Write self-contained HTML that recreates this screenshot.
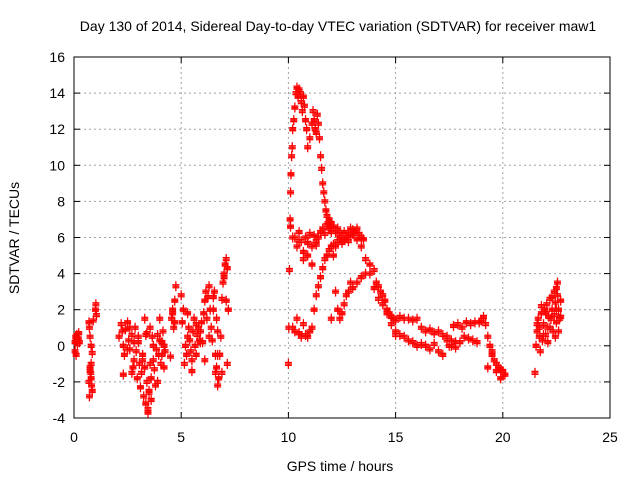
<!DOCTYPE html>
<html><head><meta charset="utf-8"><style>
body{margin:0;background:#fff}
svg{display:block;font-family:"Liberation Sans",sans-serif}
</style></head><body>
<svg id="chart" width="640" height="480" viewBox="0 0 640 480" xmlns="http://www.w3.org/2000/svg">
<rect width="640" height="480" fill="#fff"/>
<text x="338" y="31" font-size="14" text-anchor="middle">Day 130 of 2014, Sidereal Day-to-day VTEC variation (SDTVAR) for receiver maw1</text>
<g id="grid"></g>
<g id="axes"></g>
<g id="marks"></g>
<text x="340" y="471" font-size="14" text-anchor="middle">GPS time / hours</text>
<text transform="translate(19,238) rotate(-90)" font-size="14" text-anchor="middle">SDTVAR / TECUs</text>
</svg>
<script>
const xTicks=[0,5,10,15,20,25];
const yTicks=[-4,-2,0,2,4,6,8,10,12,14,16];
const hours=[
0.05,0.08,0.1,0.13,0.16,0.2,0.22,0.25,0.1,0.05,
0.7,0.72,0.75,0.8,0.85,0.9,0.75,0.78,0.8,0.82,0.85,0.7,0.72,0.75,0.8,1.0,1.02,1.05,
2.1,2.2,2.25,2.3,2.35,2.4,2.5,2.55,2.6,2.7,2.75,2.8,2.85,2.9,2.95,3.0,3.05,3.1,3.15,3.2,3.25,3.3,3.35,3.4,3.45,3.5,3.55,3.6,3.65,3.7,3.75,3.8,3.85,3.9,3.95,4.0,4.05,4.1,4.15,4.2,4.25,2.3,2.5,2.6,2.7,2.8,3.0,3.2,3.3,3.4,3.5,3.6,3.7,3.9,4.0,4.1,4.2,3.35,3.45,3.55,
4.5,4.55,4.6,4.65,4.7,4.75,4.6,4.7,5.0,5.05,
5.1,5.15,5.2,5.25,5.3,5.35,5.4,5.45,5.5,5.55,5.6,5.65,5.7,5.75,5.8,5.85,5.9,5.95,6.0,6.05,6.1,6.15,6.2,6.25,6.3,6.35,6.4,6.45,6.5,6.55,6.6,6.65,6.7,6.75,6.8,6.85,6.9,6.95,7.0,7.05,7.1,7.15,7.2,5.3,5.5,5.7,5.9,6.1,6.3,6.5,6.7,6.9,7.0,7.1,7.15,6.6,6.65,6.7,
10.0,10.02,10.05,10.08,10.1,10.12,10.15,10.18,10.2,10.25,10.3,10.35,10.4,10.45,10.5,10.55,10.6,10.65,10.7,10.75,10.8,10.85,10.9,11.0,11.1,11.15,11.2,11.25,11.3,11.35,11.4,11.45,11.5,11.55,11.6,11.65,11.7,11.75,11.8,11.85,11.9,11.95,12.0,
10.2,10.3,10.4,10.5,10.6,10.7,10.8,10.9,11.0,11.1,11.2,11.3,11.4,11.5,11.6,11.7,11.8,11.9,12.0,12.1,12.2,12.3,12.4,12.5,12.6,12.7,12.8,12.9,13.0,13.1,13.2,13.3,13.4,13.5,10.5,10.7,10.9,11.1,11.3,
10.1,10.2,10.3,10.4,10.5,10.6,10.7,10.8,10.9,11.0,11.1,11.2,11.3,11.4,11.5,11.6,11.7,11.8,11.9,12.0,12.1,12.2,12.3,12.4,12.5,12.6,12.7,12.8,12.9,13.0,13.2,13.4,13.6,13.8,14.0,14.1,14.2,14.3,14.4,14.5,14.6,14.7,14.8,14.9,15.0,
12.0,12.1,12.2,12.3,12.4,12.5,12.6,12.7,12.8,12.9,13.0,13.2,13.4,13.6,13.8,14.0,14.2,14.4,14.6,14.8,15.0,15.2,15.4,15.6,15.8,16.0,16.2,16.4,16.6,16.8,17.0,17.2,17.4,17.6,17.8,18.0,18.2,18.4,18.6,18.8,
15.0,15.2,15.4,15.6,15.8,16.0,16.2,16.4,16.6,16.8,17.0,17.2,17.4,17.6,17.8,
17.5,17.7,17.9,18.1,18.3,18.5,18.7,18.9,19.0,19.1,19.2,19.3,19.4,19.5,19.6,19.7,19.8,19.9,20.0,20.1,19.3,19.5,19.7,19.9,
21.5,21.55,21.6,21.65,21.7,21.75,21.8,21.85,21.9,21.95,22.0,22.05,22.1,22.15,22.2,22.25,22.3,22.35,22.4,22.45,22.5,22.55,22.6,22.65,22.7,21.6,21.7,21.8,21.9,22.0,22.1,22.2,22.3,22.4,22.5,22.6,22.7,22.45,22.5,22.55
];
const tecu=[
0.2,0.5,0.3,0.6,0.1,0.4,0.7,0.2,-0.5,-0.3,
1.3,1.0,0.5,0.0,-0.4,1.4,-1.2,-1.5,-1.8,-2.2,-2.5,-2.0,-2.8,-1.4,-1.0,2.0,2.3,1.7,
0.5,1.2,0.8,0.0,-0.5,0.9,1.3,0.3,-0.2,0.6,-1.2,-0.8,1.0,-0.3,-1.8,0.2,-1.0,-2.3,-1.5,-0.5,-2.8,-1.2,-3.2,-2.0,-3.5,-2.5,-1.0,-1.8,0.5,-0.8,-1.3,-2.2,-0.2,0.6,-0.5,0.3,-1.0,0.2,0.8,0.0,-0.3,-1.6,-0.2,1.0,-1.5,0.2,0.5,-0.8,1.5,0.7,-2.6,-3.0,0.0,-2.0,1.5,-0.5,-1.2,0.6,-3.7,1.0,-0.6,
1.5,1.8,1.0,2.5,3.3,2.0,1.3,2.8,1.3,2.0,
-1.0,0.0,-0.5,0.5,1.0,0.3,-0.3,-0.8,0.8,1.5,0.0,-0.5,0.6,1.0,0.3,0.8,1.3,0.2,1.8,2.5,3.0,1.5,2.7,3.3,2.0,1.0,0.3,2.7,3.0,-0.5,-1.2,-2.2,-1.8,-0.5,0.5,2.6,3.5,4.0,4.5,4.8,4.3,2.0,1.8,-1.4,1.2,0.2,-0.8,0.5,2.0,0.8,-1.5,3.8,2.5,-1.0,-1.5,1.5,-0.5,-1.0,
1.0,4.2,7.0,8.5,9.5,10.5,11.0,12.0,12.5,13.2,14.0,14.3,13.8,14.2,14.0,13.5,13.0,13.8,13.3,12.5,12.0,11.0,11.5,12.3,13.0,12.5,12.0,11.8,12.8,12.3,11.5,10.5,9.8,9.0,8.5,8.0,7.5,7.2,6.8,7.0,6.6,6.3,6.0,
6.0,5.5,6.3,5.8,5.2,6.0,5.7,6.2,5.5,6.1,5.6,6.0,6.3,6.5,6.2,6.7,6.5,6.8,6.6,6.3,6.5,6.2,6.0,6.3,6.0,5.8,6.1,6.4,6.3,6.5,6.2,6.0,5.9,5.8,4.8,5.0,4.5,5.8,6.6,
1.0,0.8,1.5,0.7,0.5,1.2,0.6,0.5,0.8,1.0,2.0,2.8,3.3,3.8,4.3,4.8,5.0,5.3,5.5,5.6,5.5,5.8,6.0,5.7,5.9,6.0,6.2,6.5,6.2,5.9,5.5,4.8,4.5,4.2,3.5,3.3,3.0,2.8,2.5,2.0,1.8,1.6,1.5,1.4,1.5,
5.0,3.0,2.0,1.5,1.8,2.3,2.8,3.0,3.5,3.2,3.5,3.8,4.0,4.0,3.2,2.6,2.3,1.8,1.2,0.8,0.6,0.5,0.3,0.2,0.0,0.1,0.0,-0.2,0.1,-0.3,-0.5,0.3,0.0,-0.1,0.2,0.5,0.4,0.3,0.2,0.6,
1.6,1.5,1.5,1.4,1.5,1.0,0.8,0.9,0.7,0.8,0.6,0.5,0.3,0.2,0.0,
1.1,1.2,1.0,1.3,1.2,1.3,1.3,1.4,1.6,1.2,0.5,0.0,-0.3,-0.8,-1.0,-1.2,-1.3,-1.4,-1.6,-1.2,-0.5,-1.4,-1.8,-1.5,
0.0,0.8,1.5,0.5,-0.3,1.8,0.3,1.2,2.0,0.6,2.3,1.0,1.6,2.6,1.5,2.0,0.8,3.0,2.4,1.3,3.5,2.0,1.5,2.5,1.2,1.0,2.2,0.6,1.8,0.2,1.0,2.7,1.7,2.0,0.8,1.6,0.5,3.2,2.8,0.9
];
const NS="http://www.w3.org/2000/svg";
const L=74,R=610,T=57,B=418;
const xs=v=>L+(v-0)/(25-0)*(R-L);
const ys=v=>B-(v+4)/20*(B-T);
const grid=document.getElementById('grid'),axes=document.getElementById('axes'),marks=document.getElementById('marks');
function mk(tag,attrs,parent){const e=document.createElementNS(NS,tag);for(const k in attrs)e.setAttribute(k,attrs[k]);parent.appendChild(e);return e;}
xTicks.forEach(t=>{const x=xs(t);
 if(t>0&&t<25){const g=mk('line',{x1:x,x2:x,y1:T,y2:B,stroke:'#a0a0a0','stroke-dasharray':'2,3'},grid);
 
 }
 mk('line',{x1:x,x2:x,y1:B,y2:B-6,stroke:'#000'},axes);mk('line',{x1:x,x2:x,y1:T,y2:T+6,stroke:'#000'},axes);
 const tx=mk('text',{x:x,y:B+24,'font-size':'14','text-anchor':'middle'},axes);tx.textContent=t;
 
 });
yTicks.forEach(t=>{const y=ys(t);
 if(t>-4&&t<16){const g=mk('line',{x1:L,x2:R,y1:y,y2:y,stroke:'#a0a0a0','stroke-dasharray':'2,3'},grid);
 
 }
 mk('line',{x1:L,x2:L+6,y1:y,y2:y,stroke:'#000'},axes);mk('line',{x1:R,x2:R-6,y1:y,y2:y,stroke:'#000'},axes);
 const tx=mk('text',{x:L-9,y:y+5,'font-size':'14','text-anchor':'end'},axes);tx.textContent=t;
 
 });
const fr=mk('rect',{x:L,y:T,width:R-L,height:B-T,fill:'none',stroke:'#000'},axes);


let d='';
for(let i=0;i<hours.length;i++){const x=xs(hours[i]),y=ys(tecu[i]);
 for(let j=-1;j<=1;j++){const yy=y+j*1.5;d+=`M${x-3.5},${yy}h7M${x},${yy-3.5}v7`;}
}
const p=mk('path',{d:d,stroke:'#f00','stroke-width':'1.3',fill:'none'},marks);


</script>
</body></html>
